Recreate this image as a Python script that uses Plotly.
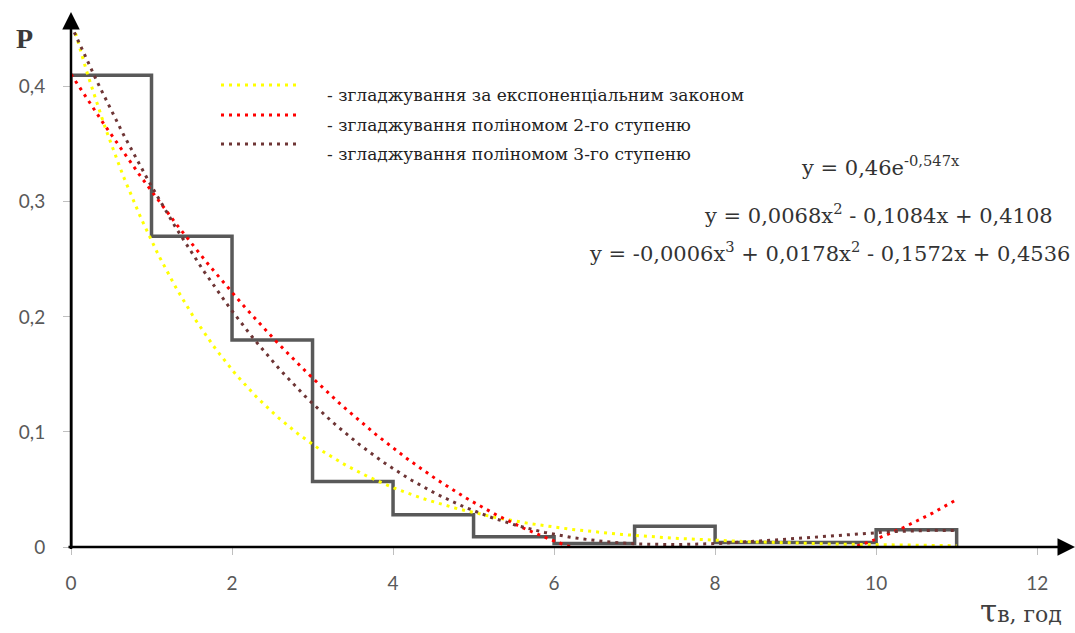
import numpy as np
import plotly.graph_objects as go

# Histogram of relative frequencies P over 1-hour intervals of τв
bin_edges = [0, 1, 2, 3, 4, 5, 6, 7, 8, 9, 10, 11]
p_values = [0.41, 0.27, 0.18, 0.057, 0.028, 0.009, 0.003, 0.018, 0.004, 0.004, 0.015]

# Trendline coefficients
exp_coef = [0.46, -0.547]                          # a * e^(b x)
poly2_coef = [0.0068, -0.1084, 0.4108]             # x^2, x, 1
poly3_coef = [-0.000649, 0.0178, -0.1572, 0.4536]  # x^3, x^2, x, 1

x_ticks = [0, 2, 4, 6, 8, 10, 12]
x_tick_text = ["0", "2", "4", "6", "8", "10", "12"]
y_ticks = [0, 0.1, 0.2, 0.3, 0.4]
y_tick_text = ["0", "0,1", "0,2", "0,3", "0,4"]

legend_labels = [
    "- згладжування за експоненціальним законом",
    "- згладжування поліномом 2-го ступеню",
    "- згладжування поліномом 3-го ступеню",
]
equations = [
    "y = 0,46e<sup>-0,547x</sup>",
    "y = 0,0068x<sup>2</sup> - 0,1084x + 0,4108",
    "y = -0,0006x<sup>3</sup> + 0,0178x<sup>2</sup> - 0,1572x + 0,4536",
]

W, H = 1075, 633
X_MAX = 12.47
Y_MAX = 0.465
PLOT_LEFT, PLOT_TOP, PLOT_BOTTOM = 71, 12, 547

YELLOW = "#FFFF00"
RED = "#FF0000"
BROWN = "#6E3535"
DOTS = "3px,5px"
SERIF = "DejaVu Serif, Liberation Serif, serif"


def px(x, y):
    """Pixel position -> paper fractions."""
    return x / W, 1 - y / H


xs = np.linspace(0, 11, 300)
y_exp = exp_coef[0] * np.exp(exp_coef[1] * xs)
y_p2 = np.polyval(poly2_coef, xs)
y_p3 = np.polyval(poly3_coef, xs)

fig = go.Figure()

# stepped outline of the histogram
step_x = [bin_edges[0]] + bin_edges + [bin_edges[-1]]
step_y = [0] + p_values + [p_values[-1], 0]
fig.add_trace(go.Scatter(
    x=step_x, y=step_y, mode="lines", line=dict(color="#595959", width=3.5, shape="hv"),
    showlegend=False, hoverinfo="skip",
))

for ys, col in [(y_exp, YELLOW), (y_p2, RED), (y_p3, BROWN)]:
    fig.add_trace(go.Scatter(
        x=xs, y=ys, mode="lines",
        line=dict(color=col, width=3, dash=DOTS),
        showlegend=False, hoverinfo="skip",
    ))

annotations = []
# axes with arrowheads
annotations.append(dict(x=X_MAX, y=0, ax=-0.05, ay=0, xref="x", yref="y", axref="x", ayref="y",
                        text="", showarrow=True, arrowhead=2, arrowsize=1.4, arrowwidth=2.5,
                        arrowcolor="#000000"))
annotations.append(dict(x=0, y=Y_MAX, ax=0, ay=-0.003, xref="x", yref="y", axref="x", ayref="y",
                        text="", showarrow=True, arrowhead=2, arrowsize=1.4, arrowwidth=2.5,
                        arrowcolor="#000000"))

# axis titles
x0, y0 = px(24, 39)
annotations.append(dict(x=x0, y=y0, xref="paper", yref="paper", text="<b>P</b>",
                        showarrow=False, xanchor="center", yanchor="middle",
                        font=dict(family="Liberation Serif", size=28, color="#3A3A3A")))
x0, y0 = px(1064, 611)
annotations.append(dict(x=x0, y=y0, xref="paper", yref="paper",
                        text="<span style='font-size:31px'>τ</span>в, год", showarrow=False,
                        xanchor="right", yanchor="middle",
                        font=dict(family=SERIF, size=22, color="#404040")))

# legend samples and labels
legend_y = [85, 115, 144]
for yy, col, lab in zip(legend_y, [YELLOW, RED, BROWN], legend_labels):
    xa, ya = px(221, yy)
    xb, _ = px(300, yy)
    fig.add_shape(type="line", xref="paper", yref="paper", x0=xa, x1=xb, y0=ya, y1=ya,
                  line=dict(color=col, width=3, dash=DOTS))
    xt, yt = px(325, yy - 2)
    annotations.append(dict(x=xt, y=yt, xref="paper", yref="paper", text=lab,
                            showarrow=False, xanchor="left",
                            font=dict(family=SERIF, size=17, color="#222222")))

# trendline equations
eq_pos = [(880, 150, "center"), (1055, 198, "right"), (1072, 252, "right")]
for (ex, ey, anc), txt in zip(eq_pos, equations):
    xe, ye = px(ex, ey)
    annotations.append(dict(x=xe, y=ye, xref="paper", yref="paper", text=txt, showarrow=False,
                            xanchor=anc, font=dict(family=SERIF, size=21, color="#333333")))

tick_font = dict(family="Lato", size=19, color="#595959")
fig.update_layout(
    width=W, height=H,
    margin=dict(l=0, r=0, t=0, b=0),
    paper_bgcolor="white", plot_bgcolor="white",
    annotations=annotations,
    separators=", ",
    xaxis=dict(domain=[PLOT_LEFT / W, 1.0], range=[0, X_MAX], showgrid=False, zeroline=False,
               showline=False, tickvals=x_ticks, ticktext=x_tick_text, ticks="outside",
               ticklen=7, tickwidth=1, tickcolor="#BFBFBF", ticklabelstandoff=12,
               tickfont=tick_font, automargin=False, fixedrange=True),
    yaxis=dict(domain=[1 - PLOT_BOTTOM / H, 1 - PLOT_TOP / H], range=[0, Y_MAX], showgrid=False,
               zeroline=False, showline=False, tickvals=y_ticks, ticktext=y_tick_text,
               ticks="outside", ticklen=7, tickwidth=1, tickcolor="#BFBFBF",
               ticklabelstandoff=14, tickfont=tick_font, automargin=False, fixedrange=True),
)

fig.write_html("out.html")
